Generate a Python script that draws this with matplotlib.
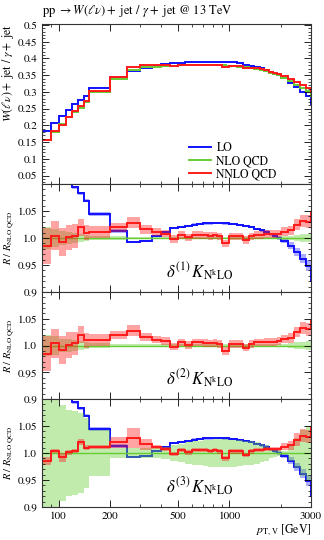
import numpy as np
import matplotlib
matplotlib.use('Agg')
import matplotlib.pyplot as plt
from matplotlib.ticker import MultipleLocator, FixedLocator, FuncFormatter, NullFormatter

plt.rcParams['font.family'] = 'STIXGeneral'
plt.rcParams['mathtext.fontset'] = 'stix'

# bin edges in pT,V [GeV] (first and last bin lie just outside the drawn range)
edges = [70, 80, 90, 100, 110, 120, 130, 140, 150, 200, 250, 300, 350, 400, 450, 500,
         550, 600, 650, 700, 750, 800, 850, 900, 950, 1000, 1100, 1200, 1300, 1400, 1500,
         1600, 1700, 1800, 1900, 2000, 2200, 2400, 2600, 2800, 3000, 3500]

# main panel: W+jet / gamma+jet ratio
lo_main = [0.170, 0.182, 0.207, 0.229, 0.247, 0.264, 0.277, 0.289, 0.311, 0.344, 0.363,
           0.373, 0.378, 0.383, 0.385, 0.387, 0.388, 0.389, 0.390, 0.390, 0.390, 0.390,
           0.390, 0.390, 0.389, 0.388, 0.385, 0.382, 0.379, 0.375, 0.371, 0.366, 0.361,
           0.355, 0.350, 0.341, 0.328, 0.314, 0.299, 0.287, 0.264]
nlo_main = [0.135, 0.157, 0.181, 0.204, 0.224, 0.241, 0.252, 0.271, 0.299, 0.339, 0.366,
            0.375, 0.376, 0.378, 0.379, 0.380, 0.380, 0.380, 0.380, 0.380, 0.380, 0.380,
            0.380, 0.380, 0.379, 0.378, 0.376, 0.374, 0.372, 0.369, 0.366, 0.362, 0.358,
            0.354, 0.350, 0.343, 0.333, 0.322, 0.311, 0.302, 0.287]
nnlo_main = [0.133, 0.155, 0.182, 0.202, 0.224, 0.242, 0.257, 0.274, 0.302, 0.346, 0.376,
             0.381, 0.380, 0.381, 0.378, 0.382, 0.380, 0.382, 0.382, 0.382, 0.381, 0.382,
             0.381, 0.376, 0.376, 0.379, 0.377, 0.372, 0.373, 0.371, 0.368, 0.365, 0.361,
             0.357, 0.353, 0.347, 0.338, 0.330, 0.321, 0.311, 0.301]

# ratio panels: R / R_NLO QCD
lo_ratio = [1.200, 1.170, 1.140, 1.125, 1.110, 1.094, 1.083, 1.069, 1.045, 1.013, 0.992,
            0.995, 1.004, 1.011, 1.018, 1.021, 1.023, 1.025, 1.026, 1.027, 1.027, 1.028,
            1.028, 1.027, 1.027, 1.026, 1.024, 1.022, 1.020, 1.017, 1.014, 1.011, 1.007,
            1.003, 1.000, 0.995, 0.986, 0.974, 0.962, 0.949, 0.920]
nnlo_ratio = [0.985, 0.985, 1.004, 0.992, 1.001, 1.004, 1.020, 1.010, 1.011, 1.020, 1.028,
              1.016, 1.011, 1.008, 0.998, 1.006, 1.001, 1.006, 1.006, 1.005, 1.004, 1.005,
              1.003, 0.990, 0.990, 1.003, 1.003, 0.996, 1.003, 1.006, 1.006, 1.007, 1.007,
              1.007, 1.008, 1.012, 1.014, 1.025, 1.032, 1.030, 1.048]

# half widths of the uncertainty bands
lo_err = [0.003, 0.003, 0.003, 0.003, 0.003, 0.003, 0.003, 0.003, 0.004, 0.003, 0.002,
          0.002, 0.002, 0.002, 0.002, 0.002, 0.002, 0.002, 0.002, 0.002, 0.002, 0.002,
          0.002, 0.002, 0.002, 0.002, 0.002, 0.002, 0.002, 0.002, 0.002, 0.003, 0.003,
          0.003, 0.004, 0.005, 0.006, 0.008, 0.009, 0.010, 0.012]
nlo_err_d1 = [0.020, 0.020, 0.017, 0.013, 0.012, 0.010, 0.008, 0.006, 0.004, 0.003, 0.002,
              0.002, 0.002, 0.002, 0.002, 0.002, 0.002, 0.002, 0.002, 0.002, 0.002, 0.002,
              0.002, 0.002, 0.002, 0.002, 0.002, 0.002, 0.002, 0.002, 0.002, 0.002, 0.002,
              0.002, 0.002, 0.003, 0.004, 0.006, 0.007, 0.008, 0.009]
nnlo_err_d1 = [0.033, 0.033, 0.027, 0.026, 0.024, 0.022, 0.016, 0.014, 0.011, 0.008, 0.010,
               0.008, 0.007, 0.007, 0.007, 0.007, 0.007, 0.007, 0.007, 0.007, 0.007, 0.007,
               0.007, 0.007, 0.007, 0.007, 0.007, 0.007, 0.007, 0.007, 0.007, 0.007, 0.007,
               0.007, 0.007, 0.008, 0.009, 0.010, 0.011, 0.012, 0.014]
nlo_err_d2 = nlo_err_d1
nnlo_err_d2 = nnlo_err_d1
nlo_err_d3 = [0.120, 0.120, 0.100, 0.088, 0.080, 0.078, 0.075, 0.064, 0.043, 0.010, 0.010,
              0.009, 0.009, 0.012, 0.015, 0.017, 0.020, 0.022, 0.023, 0.024, 0.025, 0.026,
              0.026, 0.026, 0.026, 0.025, 0.024, 0.023, 0.022, 0.020, 0.017, 0.014, 0.010,
              0.007, 0.005, 0.004, 0.015, 0.028, 0.042, 0.050, 0.055]
nnlo_err_d3 = [0.008, 0.008, 0.004, 0.008, 0.004, 0.004, 0.006, 0.004, 0.004, 0.010, 0.018,
               0.010, 0.004, 0.004, 0.004, 0.004, 0.004, 0.004, 0.004, 0.004, 0.004, 0.004,
               0.004, 0.005, 0.005, 0.004, 0.004, 0.004, 0.004, 0.004, 0.004, 0.004, 0.004,
               0.004, 0.004, 0.006, 0.008, 0.012, 0.012, 0.012, 0.012]

c_lo, c_nlo, c_nnlo = '#1010ff', '#66cc33', '#ff1a1a'
lw = 1.4

fig = plt.figure(figsize=(3.24, 5.40), dpi=100)
left, width = 42 / 324, 269 / 324
ax_main = fig.add_axes([left, 1 - 184 / 540, width, 160 / 540])
ax_r1 = fig.add_axes([left, 1 - 292 / 540, width, 108 / 540], sharex=ax_main)
ax_r2 = fig.add_axes([left, 1 - 399 / 540, width, 107 / 540], sharex=ax_main)
ax_r3 = fig.add_axes([left, 1 - 507 / 540, width, 108 / 540], sharex=ax_main)

ax_main.stairs(lo_main, edges, color=c_lo, lw=lw, label='LO')
ax_main.stairs(nlo_main, edges, color=c_nlo, lw=lw, label='NLO QCD')
ax_main.stairs(nnlo_main, edges, color=c_nnlo, lw=lw, label='NNLO QCD')


def band(ax, cen, err, color, alpha):
    cen = np.array(cen)
    err = np.array(err)
    ax.stairs(cen + err, edges, baseline=cen - err, fill=True, color=color,
              alpha=alpha, lw=0)


ones = np.ones(len(edges) - 1)
panels = [(ax_r1, nlo_err_d1, nnlo_err_d1, True, '1'),
          (ax_r2, nlo_err_d2, nnlo_err_d2, False, '2'),
          (ax_r3, nlo_err_d3, nnlo_err_d3, True, '3')]
for ax, nerr, nnerr, show_lo, k in panels:
    if show_lo:
        band(ax, lo_ratio, lo_err, c_lo, 0.35)
        ax.stairs(lo_ratio, edges, color=c_lo, lw=lw)
    band(ax, ones, nerr, c_nlo, 0.4)
    ax.stairs(ones, edges, color=c_nlo, lw=1.0)
    band(ax, nnlo_ratio, nnerr, c_nnlo, 0.4)
    ax.stairs(nnlo_ratio, edges, color=c_nnlo, lw=lw)
    ax.set_ylim(0.9, 1.1)
    ax.yaxis.set_major_locator(FixedLocator([0.9, 0.95, 1.0, 1.05]))
    ax.yaxis.set_major_formatter(FuncFormatter(lambda v, p: '1.0' if abs(v - 1) < 1e-9 else '%g' % v))
    ax.yaxis.set_minor_locator(MultipleLocator(0.01))
    ax.set_ylabel(r'$R\ /\ R_{\mathrm{NLO\ QCD}}$', fontsize=7.5)
    ax.yaxis.set_label_coords(-0.098, 0.5)
    ax.text(0.585, 0.19, r'$\delta^{(%s)}\,K_{\mathrm{N^{k}LO}}$' % k, transform=ax.transAxes,
            ha='center', va='center', fontsize=12)

ax_main.set_ylim(0.025, 0.503)
ax_main.yaxis.set_major_locator(MultipleLocator(0.05))
ax_main.yaxis.set_minor_locator(MultipleLocator(0.01))
ax_main.yaxis.set_major_formatter(FuncFormatter(lambda v, p: '%g' % round(v, 3)))
ax_main.set_ylabel(r'$W(\ell\nu)+$ jet / $\gamma+$ jet', fontsize=8.5, loc='top')
ax_main.yaxis.set_label_coords(-0.095, 1.0)
ax_main.legend(loc='lower left', bbox_to_anchor=(0.53, -0.005), frameon=False,
               fontsize=8.5, handlelength=1.8, handletextpad=0.5, labelspacing=0.1,
               borderaxespad=0)

ax_main.set_xscale('log')
ax_main.set_xlim(80, 3000)
ax_main.xaxis.set_major_locator(FixedLocator([100, 200, 500, 1000, 3000]))
ax_main.xaxis.set_minor_locator(FixedLocator([90, 300, 400, 600, 700, 800, 900, 2000]))
ax_main.xaxis.set_major_formatter(FuncFormatter(lambda v, p: '%d' % v))
ax_main.xaxis.set_minor_formatter(NullFormatter())

for ax in [ax_main, ax_r1, ax_r2, ax_r3]:
    ax.tick_params(which='both', direction='in', top=True, right=True, labelsize=8)
    ax.tick_params(which='major', length=5, width=0.6)
    ax.tick_params(which='minor', length=2.5, width=0.5)
    for s in ax.spines.values():
        s.set_linewidth(0.8)
        s.set_color('#333333')
    if ax is not ax_r3:
        ax.tick_params(labelbottom=False)

ax_r3.set_xlabel(r'$p_{\mathrm{T,V}}$ [GeV]', fontsize=8.5, loc='right', labelpad=1)

fig.text(left, 1 - 11 / 540, r'pp $\rightarrow W(\ell\nu)+$ jet / $\gamma+$ jet @ 13 TeV',
         fontsize=9, va='center', ha='left')

fig.savefig('out.png', dpi=100)
